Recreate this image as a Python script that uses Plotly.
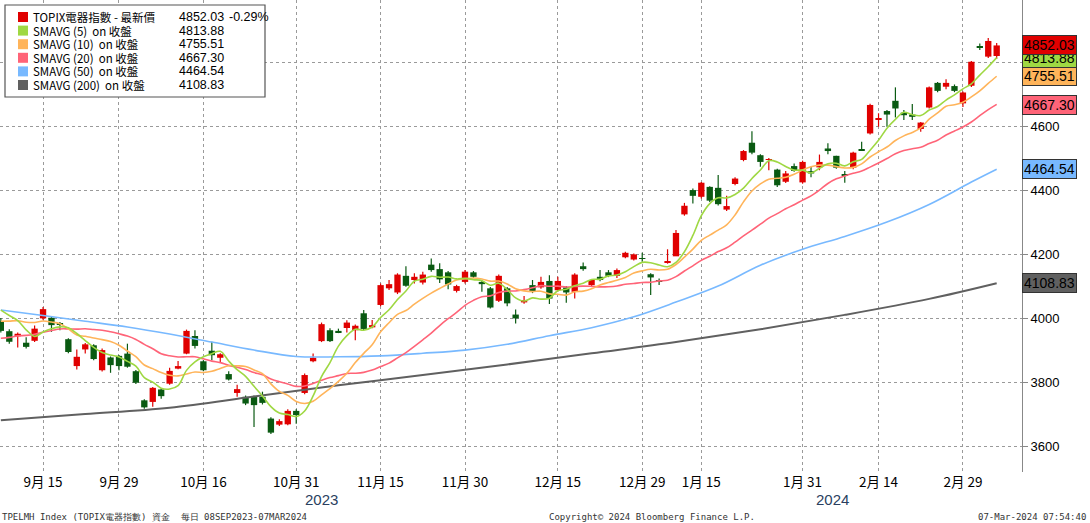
import plotly.graph_objects as go
import numpy as np

# OHLC per trading day (index 0 = 08SEP2023)
opens  = [3990,3959,3943,3923,3929,3999,4001,3984,3934,3850,3902,3915,3837,3877,3882,3889,3834,3743,3738,3777,
          3795,3842,3889,3944,3865,3898,3876,3825,3766,3754,3754,3754,3686,3667,3668,3710,3766,3865,3928,3962,
          3960,3969,3962,4015,3971,4041,4093,4080,4132,4119,4111,4167,4153,4143,4085,4113,4143,4113,4093,4054,
          4093,4011,4049,4103,4096,4116,4087,4096,4082,4162,4103,4129,4143,4132,4190,4183,4187,4137,4117,4173,
          4193,4324,4400,4379,4410,4407,4339,4419,4494,4548,4509,4495,4464,4426,4475,4424,4459,4471,4530,4507,
          4448,4470,4526,4577,4619,4647,4679,4642,4636,4591,4658,4735,4723,4725,4671,4726,4849,4817,4819]
highs  = [4000,3965,3955,3940,3977,4035,4004,3988,3937,3902,3922,3918,3905,3880,3885,3920,3838,3746,3785,3780,
          3845,3866,3964,3962,3868,3926,3890,3834,3792,3758,3758,3770,3690,3684,3715,3715,3827,3889,3986,3968,
          3967,3993,3980,4025,3994,4108,4119,4140,4162,4140,4145,4186,4171,4147,4104,4150,4147,4118,4097,4136,
          4097,4027,4069,4119,4129,4134,4129,4100,4140,4174,4122,4150,4150,4155,4207,4202,4204,4140,4124,4215,
          4275,4360,4405,4425,4412,4447,4382,4440,4525,4584,4512,4500,4467,4460,4483,4492,4473,4511,4546,4507,
          4460,4520,4551,4670,4640,4650,4721,4650,4669,4613,4724,4738,4746,4730,4708,4803,4858,4875,4860]
lows   = [3955,3920,3908,3905,3925,3995,3957,3962,3890,3839,3889,3868,3833,3829,3837,3845,3794,3717,3723,3748,
          3792,3840,3887,3905,3834,3868,3863,3805,3754,3728,3660,3730,3638,3663,3665,3670,3762,3862,3925,3925,
          3953,3955,3931,3963,3968,4037,4088,4075,4098,4108,4105,4145,4110,4090,4080,4108,4125,4082,4030,4050,
          4037,3983,4045,4078,4092,4044,4083,4048,4061,4148,4100,4115,4128,4125,4187,4180,4176,4072,4103,4170,
          4195,4320,4358,4374,4363,4352,4335,4415,4490,4512,4473,4462,4410,4422,4457,4420,4440,4462,4512,4467,
          4423,4465,4522,4574,4598,4598,4627,4619,4619,4582,4655,4706,4715,4706,4660,4722,4838,4813,4810]
closes = [3960,3926,3951,3910,3967,4028,3978,3980,3894,3879,3918,3872,3900,3853,3850,3848,3798,3721,3782,3756,
          3835,3850,3960,3913,3837,3884,3887,3808,3778,3733,3728,3735,3642,3678,3710,3697,3822,3876,3981,3928,
          3955,3986,3976,3966,3978,4103,4106,4136,4101,4129,4136,4150,4121,4105,4100,4145,4129,4106,4033,4132,
          4046,3999,4056,4082,4113,4061,4116,4080,4136,4153,4119,4119,4132,4150,4204,4199,4185,4127,4114,4178,
          4266,4351,4382,4423,4367,4356,4350,4436,4522,4517,4488,4497,4415,4452,4460,4488,4452,4488,4522,4470,
          4446,4517,4524,4666,4624,4636,4655,4634,4629,4611,4721,4710,4735,4710,4705,4801,4846,4866,4852.03]
# closes before 08SEP2023 (used only for the moving averages)
pre_closes = [3870,3860,3880,3895,3900,3875,3880,3890,3895,3895,3920,3940,3955,3975,3985,4010,4030,4055,4070]

# longer moving averages
sma50_idx  = [0,5,10,15,20,25,30,35,40,45,50,55,60,65,70,75,80,85,90,95,100,105,110,115,118]
sma50_val  = [4025,4008,3990,3972,3950,3925,3900,3880,3879,3882,3890,3900,3918,3945,3970,4004,4050,4100,4165,4215,4255,4300,4355,4425,4465]
sma200_idx = [0,10,20,30,40,50,60,70,80,90,100,110,118]
sma200_val = [3681,3700,3720,3755,3790,3822,3855,3890,3925,3965,4010,4060,4109]

tick_idx  = [5,14,24,35,45,55,66,76,83,95,104,114]
tick_text = ["9月 15","9月 29","10月 16","10月 31","11月 15","11月 30","12月 15","12月 29","1月 15","1月 31","2月 14","2月 29"]

legend_names = ["TOPIX電器指數 - 最新價","SMAVG (5)  on 收盤","SMAVG (10)  on 收盤","SMAVG (20)  on 收盤","SMAVG (50)  on 收盤","SMAVG (200)  on 收盤"]
legend_vals  = ["4852.03","4813.88","4755.51","4667.30","4464.54","4108.83"]
legend_colors= ["#e00000","#9fd843","#ffb45a","#ff6478","#78b9ff","#606060"]

UP, DOWN = "#e00000", "#0a5a12"
x = np.arange(len(closes))
o = np.array(opens, float); c = np.array(closes, float)
allc = np.array(pre_closes + closes, dtype=float)
def sma(n):
    return [allc[i+len(pre_closes)-n+1:i+len(pre_closes)+1].mean() for i in range(len(closes))]

fig = go.Figure()
for up, col in [(True, UP), (False, DOWN)]:
    wx, wy = [], []
    for i in range(len(c)):
        if (c[i] >= o[i]) == up:
            wx += [i, i, None]; wy += [lows[i], highs[i], None]
    fig.add_trace(go.Scatter(x=wx, y=wy, mode="lines", line=dict(color=col, width=1.2), showlegend=False))
body = np.maximum(np.abs(c - o), 2.0)
colors = [UP if c[i] >= o[i] else DOWN for i in range(len(c))]
fig.add_trace(go.Bar(x=x, y=body, base=np.minimum(o, c), width=0.75, marker=dict(color=colors, line=dict(width=0)), showlegend=False))
fig.add_trace(go.Scatter(x=sma200_idx, y=sma200_val, mode="lines", line=dict(color=legend_colors[5], width=2, shape="spline"), showlegend=False))
fig.add_trace(go.Scatter(x=sma50_idx, y=sma50_val, mode="lines", line=dict(color=legend_colors[4], width=1.6, shape="spline"), showlegend=False))
for n, col in [(20, legend_colors[3]), (10, legend_colors[2]), (5, legend_colors[1])]:
    fig.add_trace(go.Scatter(x=x, y=sma(n), mode="lines", line=dict(color=col, width=1.6, shape="spline"), showlegend=False))

ann = []
for v, col in list(zip(legend_vals, legend_colors))[::-1]:
    ann.append(dict(xref="paper", yref="y", x=1.0, y=float(v), xanchor="left", yanchor="middle", text=v, showarrow=False,
                    font=dict(family="Liberation Sans", size=14, color="black"),
                    bgcolor=col, bordercolor="#333", borderwidth=1, borderpad=1))
shapes = [dict(type="rect", xref="paper", yref="paper", x0=5/1022, x1=265/1022, y0=1-97/472, y1=1-5/472,
               fillcolor="white", line=dict(color="#555", width=1.2), layer="above")]
for k, (nm, v, col) in enumerate(zip(legend_names, legend_vals, legend_colors)):
    yy = 17 + k*13.6
    shapes.append(dict(type="rect", xref="paper", yref="paper", x0=18/1022, x1=28/1022, y0=1-(yy+5)/472, y1=1-(yy-5)/472,
                       fillcolor=col, line=dict(width=0), layer="above"))
    ann.append(dict(xref="paper", yref="paper", x=31/1022, y=1-yy/472, xanchor="left", yanchor="middle", text=nm, showarrow=False,
                    font=dict(family="Noto Sans CJK TC", size=11.5, color="black")))
    ann.append(dict(xref="paper", yref="paper", x=177/1022, y=1-yy/472, xanchor="left", yanchor="middle", text=v, showarrow=False,
                    font=dict(family="Liberation Sans", size=12.5, color="black")))
ann.append(dict(xref="paper", yref="paper", x=227/1022, y=1-17/472, xanchor="left", yanchor="middle", text="-0.29%", showarrow=False,
                font=dict(family="Liberation Sans", size=12.5, color="black")))
ann.append(dict(xref="x", yref="paper", x=38, y=-27/472, yanchor="middle", text="2023", showarrow=False, font=dict(family="Liberation Sans", size=15)))
ann.append(dict(xref="x", yref="paper", x=98.5, y=-27/472, yanchor="middle", text="2024", showarrow=False, font=dict(family="Liberation Sans", size=15)))
foot = dict(family="DejaVu Sans Mono", size=9, color="#333")
fy = -45/472
ann.append(dict(xref="paper", yref="paper", x=0, y=fy, xanchor="left", yanchor="middle", text="TPELMH Index (TOPIX電器指數) 資金  每日 08SEP2023-07MAR2024", showarrow=False, font=foot))
ann.append(dict(xref="paper", yref="paper", x=0.535, y=fy, xanchor="left", yanchor="middle", text="Copyright© 2024 Bloomberg Finance L.P.", showarrow=False, font=foot))
ann.append(dict(xref="paper", yref="paper", x=1.065, y=fy, xanchor="right", yanchor="middle", text="07-Mar-2024 07:54:40", showarrow=False, font=foot))

fig.update_layout(width=1090, height=523, margin=dict(l=0, r=68, t=0, b=51),
    plot_bgcolor="white", paper_bgcolor="white", annotations=ann, shapes=shapes,
    xaxis=dict(range=[-0.1, 121], tickvals=tick_idx, ticktext=tick_text,
               showgrid=True, gridcolor="#9a9a9a", griddash="dot", gridwidth=1, ticks="", zeroline=False,
               tickfont=dict(family="Noto Sans CJK TC", size=13.5, color="black"), showline=False),
    yaxis=dict(side="right", range=[3519, 4994], tickvals=[3600,3800,4000,4200,4400,4600,4800],
               ticktext=["3600","3800","4000","4200","4400","4600",""], showgrid=True, gridcolor="#9a9a9a",
               griddash="dot", ticks="outside", ticklen=5, tickcolor="#888", showline=True, linecolor="#888",
               zeroline=False, tickfont=dict(family="Liberation Sans", size=13, color="black")),
    hovermode=False)
fig.write_html("out.html", config={"displayModeBar": False},
               post_script="document.body.style.margin='0';document.body.style.overflow='hidden';")
